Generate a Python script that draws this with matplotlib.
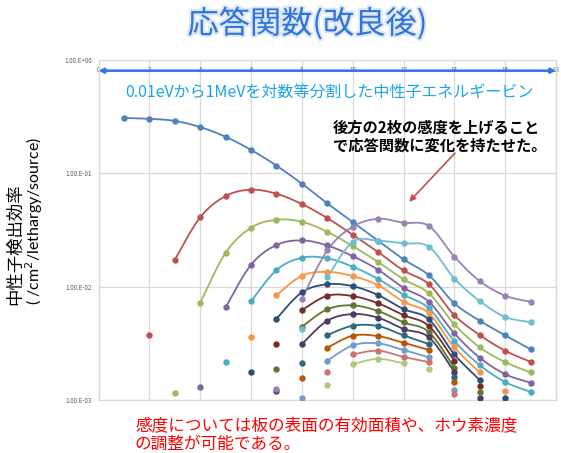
import numpy as np
import matplotlib
matplotlib.use("Agg")
import matplotlib.pyplot as plt
import matplotlib.patheffects as pe

plt.rcParams['font.family'] = ['Noto Sans CJK JP', 'DejaVu Sans']

# energy bin index (0.01 eV .. 1 MeV, log-equal bins)
bins = [1, 2, 3, 4, 5, 6, 7, 8, 9, 10, 11, 12, 13, 14, 15, 16, 17]

# detection efficiency of each detector plate, None = no value
blue = [0.308, 0.303, 0.290, 0.256, 0.210, 0.161, 0.117, 0.081, 0.0543, 0.0372, 0.0254, 0.0174, 0.0126, 0.00713, 0.0050, 0.00372, 0.0028]
red = [None, 0.00374, 0.0172, 0.0409, 0.063, 0.0717, 0.066, 0.0536, 0.0403, 0.0287, 0.0202, 0.0139, 0.0105, 0.0056, 0.00374, 0.00272, 0.00217]
green = [None, None, 0.00116, 0.0072, 0.0199, 0.0331, 0.0389, 0.0374, 0.0305, 0.0228, 0.0165, 0.0116, 0.00873, 0.00465, 0.00291, 0.00216, 0.00175]
purple = [None, None, None, 0.00131, 0.00656, 0.0156, 0.0233, 0.0256, 0.0231, 0.0186, 0.0141, 0.00977, 0.00736, 0.00387, 0.00236, 0.00169, 0.00142]
cyan = [None, None, None, None, 0.00216, 0.00742, 0.014, 0.018, 0.0178, 0.015, 0.0117, 0.00849, 0.00643, 0.00331, 0.00203, 0.00144, 0.00118]
orange = [None, None, None, None, None, 0.00357, 0.00838, 0.0125, 0.0135, 0.0124, 0.0103, 0.00736, 0.00581, 0.00291, 0.00175, 0.0012, None]
navy = [None, None, None, None, None, 0.00175, 0.00521, 0.00891, 0.0105, 0.0101, 0.00843, 0.00634, 0.00514, 0.00253, 0.0015, 0.00105, None]
maroon = [None, None, None, None, None, None, 0.00311, 0.00621, 0.00831, 0.00826, 0.00713, 0.00561, 0.00449, 0.00222, 0.00133, None, None]
olive = [None, None, None, None, None, None, 0.00187, 0.00443, 0.00631, 0.00684, 0.00609, 0.00484, 0.00397, 0.00192, 0.00117, None, None]
dpurple = [None, None, None, None, None, None, 0.0012, 0.00311, 0.005, 0.00573, 0.00532, 0.00423, 0.00357, 0.00177, 0.00105, None, None]
teal = [None, None, None, None, None, None, None, 0.00213, 0.00374, 0.00452, 0.00449, 0.00372, 0.00311, 0.00158, None, None, None]
brown = [None, None, None, None, None, None, None, 0.00155, 0.00289, 0.00369, 0.00366, 0.0032, 0.00276, 0.00145, None, None, None]
ltblue = [None, None, None, None, None, None, None, 0.00105, 0.00222, 0.00303, 0.00316, 0.00276, 0.00238, 0.00122, None, None, None]
pink = [None, None, None, None, None, None, None, None, 0.00177, 0.00253, 0.00272, 0.0024, 0.00216, 0.00113, None, None, None]
ltgreen = [None, None, None, None, None, None, None, None, 0.00135, 0.00207, 0.00231, 0.0021, 0.00187, None, None, None, None]
lavender = [None, None, None, None, None, None, 0.00124, 0.00778, 0.0209, 0.0338, 0.0397, 0.0366, 0.0343, 0.0184, 0.0112, 0.00832, 0.00736]
ltcyan = [None, None, None, None, None, None, None, 0.0042, 0.0121, 0.0249, 0.0254, 0.0241, 0.0225, 0.0118, 0.00746, 0.0054, 0.00487]

series = [blue, red, green, purple, cyan, orange, navy, maroon, olive, dpurple,
          teal, brown, ltblue, pink, ltgreen, lavender, ltcyan]
# first and last bin joined by the smoothed line
spans = [(1, 17), (3, 17), (4, 17), (5, 17), (6, 17), (7, 15), (7, 15), (8, 14), (8, 14), (8, 14),
         (9, 13), (9, 13), (9, 13), (10, 13), (10, 12), (8, 17), (9, 17)]
colors = ['#4F81BD', '#C0504D', '#9BBB59', '#8064A2', '#4BACC6', '#F79646',
          '#2C4D75', '#772C2A', '#5F7530', '#4D3B62', '#276A7C', '#B65708',
          '#729ACA', '#CD7371', '#AFC97A', '#9983B5', '#6FBDD1']

ytick_vals = [1e-3, 1e-2, 1e-1, 1e0]
ytick_labels = ['1.00.E-03', '1.00.E-02', '1.00.E-01', '1.00.E+00']
xtick_vals = [0, 2, 4, 6, 8, 10, 12, 14, 16, 18]


def smooth(xs, ys, n=24):
    """excel-like smoothed line (catmull-rom bezier) in x / log10(y)"""
    p = np.column_stack([xs, np.log10(ys)])
    p = np.vstack([p[0], p, p[-1]])
    out = []
    t = np.linspace(0, 1, n)[:, None]
    for i in range(1, len(p) - 2):
        p0, p1, p2, p3 = p[i - 1], p[i], p[i + 1], p[i + 2]
        c1 = p1 + (p2 - p0) / 6.0
        c2 = p2 - (p3 - p1) / 6.0
        seg = ((1 - t) ** 3) * p1 + 3 * ((1 - t) ** 2) * t * c1 + 3 * (1 - t) * t ** 2 * c2 + t ** 3 * p2
        out.append(seg)
    out = np.vstack(out)
    return out[:, 0], 10 ** out[:, 1]


fig = plt.figure(figsize=(5.61, 4.53), dpi=100)
ax = fig.add_axes([0.1756, 0.117, 0.8155, 0.7506])

for vals, (a, b), c in zip(series, spans, colors):
    xs = [x for x, v in zip(bins, vals) if v is not None]
    ys = [v for v in vals if v is not None]
    lx = [x for x, v in zip(bins, vals) if v is not None and a <= x <= b]
    ly = [v for x, v in zip(bins, vals) if v is not None and a <= x <= b]
    if len(lx) > 1:
        sx, sy = smooth(lx, ly)
        ax.plot(sx, sy, color=c, lw=1.3, solid_capstyle='round', zorder=3)
    ax.plot(xs, ys, 'o', color=c, ms=3.6, mec=c, zorder=4)

ax.set_yscale('log')
ax.set_ylim(1e-3, 1e0)
ax.set_xlim(0, 18)
ax.set_yticks(ytick_vals)
ax.set_yticklabels(ytick_labels)
ax.minorticks_off()
ax.set_xticks(xtick_vals)
ax.set_xticklabels([str(v) for v in xtick_vals])
ax.tick_params(axis='y', length=0, labelsize=4.5, labelcolor='#595959', pad=5)
ax.tick_params(axis='x', length=0, labelsize=4.5, labelcolor='#595959',
               bottom=False, labelbottom=False, top=False, labeltop=True, pad=-10)
ax.grid(True, color='#D9D9D9', lw=0.9)
ax.set_axisbelow(True)
for s in ax.spines.values():
    s.set_color('#D9D9D9')
    s.set_linewidth(0.9)

# blue double arrow along the energy axis
ax.annotate('', xy=(1.0, 0.9685), xytext=(0.0, 0.9685), xycoords='axes fraction',
            arrowprops=dict(arrowstyle='<|-|>', color='#2F74E8', lw=1.8,
                            mutation_scale=7, shrinkA=0, shrinkB=0), zorder=5)
ax.text(0.504, 0.906, '0.01eVから1MeVを対数等分割した中性子エネルギービン',
        transform=ax.transAxes, ha='center', va='center', fontsize=11.5, color='#19A4EC')

ax.text(0.5126, 0.775, '後方の2枚の感度を上げること\nで応答関数に変化を持たせた。',
        transform=ax.transAxes, ha='left', va='center', fontsize=11, fontweight='bold',
        color='black', linespacing=1.15)
ax.annotate('', xy=(0.679, 0.583), xytext=(0.779, 0.726), xycoords='axes fraction',
            arrowprops=dict(arrowstyle='-|>', color='#C0504D', lw=1.2,
                            mutation_scale=9, shrinkA=0, shrinkB=0))

fig.text(0.548, 0.948, '応答関数(改良後)', ha='center', va='center', fontsize=22.5,
         color='#2E74DA',
         path_effects=[pe.withStroke(linewidth=3, foreground='#DCE6F4')])

fig.text(15 / 561, 1 - 305 / 453, '中性子検出効率', rotation=90, rotation_mode='anchor',
         ha='left', va='center', fontsize=12.5, color='black')
fig.text(34 / 561, 1 - 305 / 453, '( /cm$^2$/lethargy/source)', rotation=90,
         rotation_mode='anchor', ha='left', va='center', fontsize=11.5, color='black',
         family=['Lato', 'DejaVu Sans'])

fig.text(135 / 561, 1 - 435 / 453, '感度については板の表面の有効面積や、ホウ素濃度\nの調整が可能である。',
         ha='left', va='center', fontsize=12, color='#FF0000', linespacing=1.1)

fig.savefig('out.png', dpi=100)
